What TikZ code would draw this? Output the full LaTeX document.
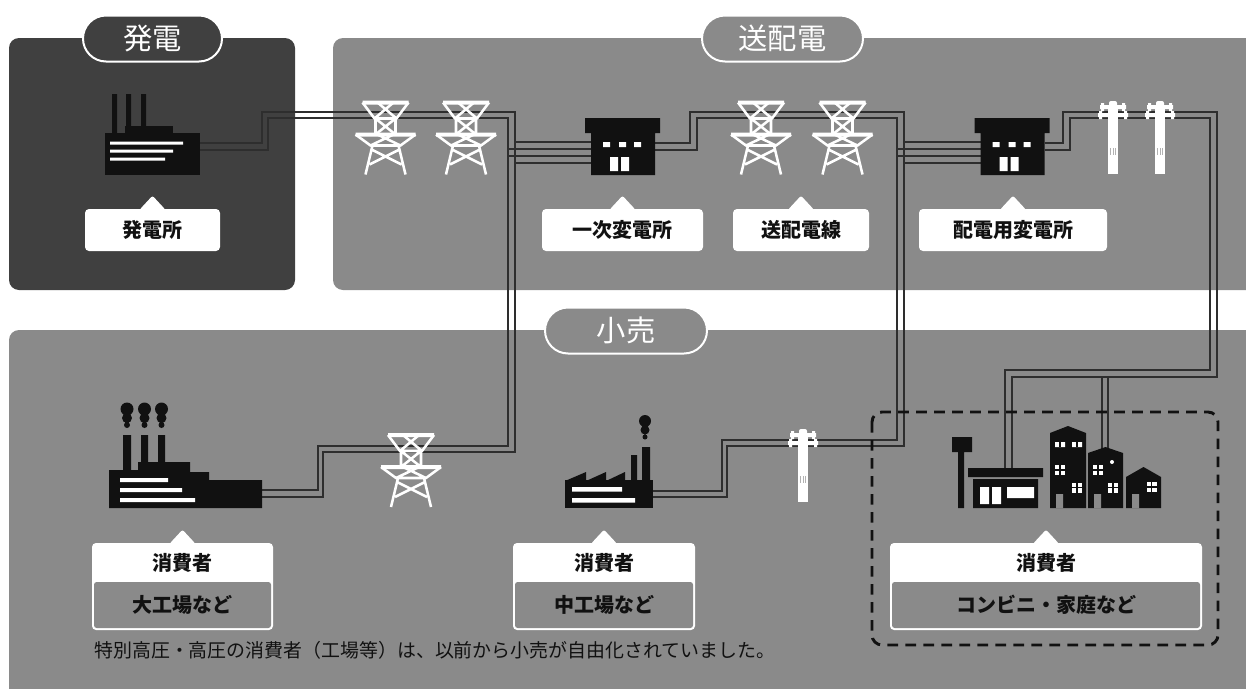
\documentclass[tikz,border=0pt]{standalone}
\usepackage{fontspec}
\setmainfont{Noto Sans CJK JP}
\usetikzlibrary{shapes.misc}
\definecolor{genfill}{HTML}{404040}
\definecolor{gridfill}{HTML}{8A8A8A}
\definecolor{wirecore}{HTML}{2E2E2E}
\definecolor{wireedge}{HTML}{707070}
\definecolor{ink}{HTML}{111111}
\tikzset{
    pill/.style={rounded rectangle, draw=white, line width=1.5pt, text=white,
    	minimum height=46*0.75pt, inner sep=0pt, font=\fontsize{22}{22}\selectfont},
    tag/.style={rectangle, fill=white, rounded corners=3pt, inner sep=0pt,
    	minimum height=42*0.75pt, text=ink, font=\bfseries\fontsize{15}{15}\selectfont},
    kind/.style={rectangle, fill=gridfill, rounded corners=2pt, inner sep=0pt,
    	minimum height=46*0.75pt, text=ink, font=\bfseries\fontsize{15}{15}\selectfont},
    who/.style={inner sep=0pt, text=ink, font=\bfseries\fontsize{15}{15}\selectfont},
    iconbox/.style={rectangle, inner sep=0pt, outer sep=0pt}
}
\tikzset{
    wire/.style={draw=wireedge, double=wirecore, line width=0.4pt, double distance=1.4pt}
}
\tikzset{
    pylon/.pic={
        \fill [white] (-23,-37) rectangle (23,-33) (-30,-5) rectangle (30,-1);
        \draw [white, line width=1.9pt, line join=round]
            (-23,-35) -- (-11,-19) -- (11,-19) -- (23,-35)
            (-11,-19) -- (8,-35) (11,-19) -- (-8,-35)
            (-10,-19) -- (-10,-3) (10,-19) -- (10,-3)
            (-10,-19) -- (10,-3) (10,-19) -- (-10,-3)
            (-30,-3) -- (-15,8) -- (15,8) -- (30,-3)
            (-15,8) -- (8,-3) (15,8) -- (-8,-3)
            (-13,8) -- (-20,37) (13,8) -- (20,37)
            (-14,12) -- (16,27) (14,12) -- (-16,27);
    },
    pole/.pic={
        \fill [white] (-5,-31) rectangle (5,36);
        \fill [white, rounded corners=1.5pt] (-4,-37) rectangle (4,-28);
        \fill [white] (-13,-33) rectangle (13,-29) (-15,-25) rectangle (15,-21);
        \fill [white] (-12,-35) rectangle (-9,-27) (9,-35) rectangle (12,-27)
            (-14,-27) rectangle (-11,-19) (11,-27) rectangle (14,-19);
        \draw [gray!60, line width=0.5pt] (-2.5,10) -- (-2.5,17) (0,10) -- (0,17) (2.5,10) -- (2.5,17);
    },
    substation/.pic={
        \fill [ink] (-38,-36) rectangle (37,-21) (-32,-21) rectangle (32,21);
        \fill [white] (-20,-12) rectangle (-13,-7) (-4,-12) rectangle (3,-7) (11,-12) rectangle (18,-7);
        \fill [white] (-13,3) rectangle (-5,17) (-2,3) rectangle (6,17);
    }
}

\begin{document}
\begin{tikzpicture}[x=0.75pt, y=-0.75pt]
  \useasboundingbox (0,0) rectangle (1246,689);
  \fill [white] (0,0) rectangle (1246,689);
  \fill [genfill, rounded corners=7.5pt] (9,38) rectangle (295,290);
  \fill [gridfill, rounded corners=7.5pt] (333,38) rectangle (1270,290);
  \fill [gridfill, rounded corners=7.5pt] (9,330) rectangle (1270,710);

  \node (genPill) [pill, fill=genfill, minimum width=139*0.75pt] at (152.5,38.5) {発電};
  \node (gridPill) [pill, fill=gridfill, minimum width=161*0.75pt] at (782.5,38.5) {送配電};
  \node (retailPill) [pill, fill=gridfill, minimum width=162*0.75pt] at (626,330.5) {小売};

  \node (plant) [iconbox, minimum width=95*0.75pt, minimum height=42*0.75pt] at (152.5,154) {};
  \node (sub1) [iconbox, minimum width=64*0.75pt, minimum height=42*0.75pt] at (623,154) {};
  \node (sub2) [iconbox, minimum width=64*0.75pt, minimum height=42*0.75pt] at (1012.5,154) {};
  \node (bigplant) [iconbox, minimum width=153*0.75pt, minimum height=46*0.75pt] at (185.5,485) {};
  \node (midplant) [iconbox, minimum width=88*0.75pt, minimum height=28*0.75pt] at (609,494) {};
  \node (shop) [iconbox, minimum width=75*0.75pt, minimum height=40*0.75pt] at (1005.5,488) {};
  \node (flats) [iconbox, minimum width=111*0.75pt, minimum height=82*0.75pt] at (1105.5,467) {};

  \draw [wire] (plant.east |- 0,143) -| (262,112) -| (515,452) -| (323,497) -- (bigplant.east |- 0,497);
  \draw [wire] (plant.east |- 0,150) -| (268,118) -| (508,446) -| (318,490) -- (bigplant.east |- 0,490);
  \foreach \x/\y in {515/142, 508/149, 508/156, 515/163}
    \draw [wire] (\x,\y) -- (sub1.west |- 0,\y);
  \draw [wire] (sub1.east |- 0,143) -| (690,112) -| (904,446) -| (727,497) -- (midplant.east |- 0,497);
  \draw [wire] (sub1.east |- 0,150) -| (697,118) -| (897,440) -| (722,491) -- (midplant.east |- 0,491);
  \foreach \x/\y in {904/142, 897/149, 897/156, 904/163}
    \draw [wire] (\x,\y) -- (sub2.west |- 0,\y);
  \draw [wire] (sub2.east |- 0,143) -| (1063,112) -| (1217,377) -| (1012,0 |- shop.north);
  \draw [wire] (sub2.east |- 0,150) -| (1070,118) -| (1210,370) -| (1005,0 |- shop.north);
  \draw [wire] (1102,377) -- (1102,449);
  \draw [wire] (1108,377) -- (1108,449);

  % power plant
  \fill [ink] (112,94) rectangle (117,134) (126,94) rectangle (131,134) (141,94) rectangle (146,134);
  \fill [ink] (125,126) rectangle (173,134);
  \fill [ink] (plant.north west) rectangle (plant.south east);
  \fill [white] (110,141.5) rectangle (183,144.5) (110,149.5) rectangle (173,152.5) (110,157.5) rectangle (165,160.5);

  \foreach \x in {385.5,466,761,842.5}
    \pic at (\x,137.5) {pylon};
  \pic at (411,470) {pylon};
  \foreach \x in {1113,1160}
    \pic at (\x,138) {pole};
  \pic at (803,466) {pole};
  \pic at (sub1) {substation};
  \pic at (sub2) {substation};

  % large factory
  \fill [ink] (109,470) -- (138,470) -- (138,462) -- (190,462) -- (190,472) -- (209,472) -- (209,480)
    -- (262,480) -- (262,508) -- (109,508) -- cycle;
  \fill [ink] (123,435) rectangle (131,471) (141,435) rectangle (148,463) (158,435) rectangle (165,463);
  \foreach \x in {127,144.5,161.5}
    \fill [ink] (\x,409) circle [radius=6.5] (\x,418) circle [radius=5] (\x,425) circle [radius=3];
  \fill [white] (120,478) rectangle (168,482) (120,488) rectangle (182,492) (120,498) rectangle (195,502);

  % middle factory
  \fill [ink] (midplant.north west) rectangle (midplant.south east);
  \fill [ink] (565,481) -- (586,472) -- (586,481) -- (606,472) -- (606,481) -- (625,472) -- (625,481) -- cycle;
  \fill [ink] (631,455) rectangle (637,481) (642,447) rectangle (650,481);
  \fill [ink] (645,421) circle [radius=6] (645,430) circle [radius=4.5] (645,437) circle [radius=2.5];
  \fill [white] (572,487) rectangle (622,491.5) (572,498) rectangle (635,502.5);

  % shop and houses
  \fill [ink] (952,437) rectangle (972,452) (958,452) rectangle (964,508);
  \fill [ink] (968,468) rectangle (1043,477) (973,479) rectangle (1038,508);
  \fill [white] (980,487) rectangle (989,504) (992,487) rectangle (1001,504) (1007,487) rectangle (1034,498);
  \fill [ink] (1050,508) -- (1050,433) -- (1068,426) -- (1086,433) -- (1086,508) -- cycle;
  \fill [ink] (1088,508) -- (1088,453) -- (1105.5,447) -- (1123,453) -- (1123,508) -- cycle;
  \fill [ink] (1126,508) -- (1126,477) -- (1143.5,467) -- (1161,477) -- (1161,508) -- cycle;
  \fill [gridfill] (1056,494) rectangle (1063,508) (1094,494) rectangle (1101,508) (1132,494) rectangle (1139,508);
  \fill [white] (1055,442) rectangle (1065,447) (1072,442) rectangle (1082,447) (1112,462) circle [radius=2];
  \draw [ink, line width=0.8pt] (1060,442) -- (1060,447) (1077,442) -- (1077,447);
  \foreach \x/\y in {1060/470, 1098/470, 1077/487.5, 1113/487.5, 1151.5/487} {
    \fill [white] (\x-5,\y-5) rectangle (\x+5,\y+5);
    \draw [ink, line width=0.8pt] (\x-5,\y) -- (\x+5,\y) (\x,\y-5) -- (\x,\y+5);
  }

  \draw [ink, line width=2.2pt, dash pattern=on 8pt off 5.5pt, rounded corners=7.5pt] (872,412) rectangle (1218,645);

  \node (plantTag) [tag, minimum width=135*0.75pt] at (152.5,230) {発電所};
  \node (sub1Tag) [tag, minimum width=161*0.75pt] at (622.5,230) {一次変電所};
  \node (lineTag) [tag, minimum width=136*0.75pt] at (801,230) {送配電線};
  \node (sub2Tag) [tag, minimum width=188*0.75pt] at (1013,230) {配電用変電所};
  \node (bigTag) [tag, minimum width=181*0.75pt, minimum height=87*0.75pt] at (182.5,586.5) {};
  \node (midTag) [tag, minimum width=182*0.75pt, minimum height=87*0.75pt] at (604,586.5) {};
  \node (homeTag) [tag, minimum width=312*0.75pt, minimum height=87*0.75pt] at (1046,586.5) {};
  \foreach \t in {plantTag,sub1Tag,lineTag,sub2Tag,bigTag,midTag,homeTag}
    \fill [white, rounded corners=1.5pt] (\t.north) ++(-13,1) -- ++(13,-14) -- ++(13,14) -- cycle;

  \node (bigWho) [who] at (182.5,563) {消費者};
  \node (midWho) [who] at (604,563) {消費者};
  \node (homeWho) [who] at (1046,563) {消費者};
  \node (bigKind) [kind, minimum width=177*0.75pt] at (182.5,605) {大工場など};
  \node (midKind) [kind, minimum width=178*0.75pt] at (604,605) {中工場など};
  \node (homeKind) [kind, minimum width=308*0.75pt] at (1046,605) {コンビニ・家庭など};

  \node (note) [anchor=west, inner sep=0pt, text=ink, font=\fontsize{14.2}{14.2}\selectfont] at (94,650)
    {特別高圧・高圧の消費者（工場等）は、以前から小売が自由化されていました。};
\end{tikzpicture}
\end{document}
